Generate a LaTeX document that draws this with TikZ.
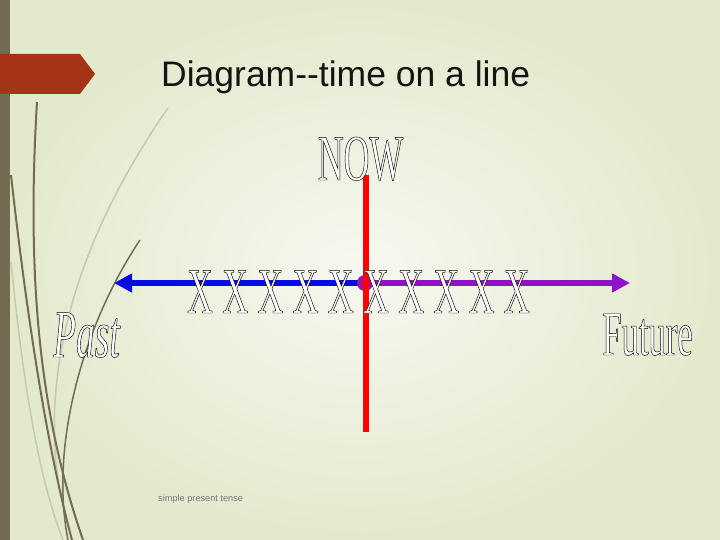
\documentclass[tikz,border=0pt]{standalone}
\usepackage{fontspec}
\setmainfont{Liberation Serif}
\newfontfamily\titlefont{Liberation Sans}
\newfontfamily\slimfont[FakeStretch=0.55]{Liberation Serif}
\usetikzlibrary{arrows.meta,positioning}

\definecolor{bgedge}{RGB}{227,233,205}
\definecolor{bgmid}{RGB}{247,248,240}
\definecolor{barcol}{RGB}{115,107,82}
\definecolor{tagcol}{RGB}{165,52,22}
\definecolor{stemlight}{RGB}{198,200,178}
\definecolor{pastblue}{RGB}{10,10,230}
\definecolor{futpurple}{RGB}{140,20,200}
\definecolor{nowred}{RGB}{255,0,0}
\definecolor{notegray}{RGB}{120,120,120}

\newcommand{\hollow}[1]{\special{pdf:literal direct 2 Tr 0 G 0.45 w}#1\special{pdf:literal direct 0 Tr}}

\begin{document}
\begin{tikzpicture}[x=1pt,y=-1pt,
	stem/.style = {draw=barcol, line width=2pt},
	thin stem/.style = {draw=stemlight, line width=1.5pt},
	timeline/.style = {line width=6pt, -{Triangle[length=18pt,width=18pt]}},
	bigletter/.style = {text=white, inner sep=0pt, anchor=base,
	                    font=\slimfont\fontsize{65}{65}\selectfont}
	]
\useasboundingbox (0,0) rectangle (720,540);
\shade[inner color=bgmid, outer color=bgedge] (0,0) rectangle (720,540);
\fill[barcol] (0,0) rectangle (10,540);

\draw[thin stem] (168,108) .. controls (90,220) and (40,350) .. (58,480);
\draw[thin stem] (11,262) .. controls (25,400) and (40,480) .. (63,540);
\draw[stem] (37,102) .. controls (25,300) and (45,430) .. (83,540);
\draw[stem] (11,175) .. controls (25,300) and (45,440) .. (72,540);
\draw[stem, line width=1.5pt] (140,240) .. controls (80,330) and (50,450) .. (68,540);

\fill[tagcol] (0,54) -- (80,54) -- (95,74) -- (80,94) -- (0,94) -- cycle;

\node[anchor=base west, inner sep=0pt, font=\titlefont\fontsize{35.5}{35.5}\selectfont,
      text={rgb,255:red,20;green,20;blue,20}] (title) at (161,87) {Diagram-{}-time on a line};

\coordinate (now) at (365,283);
\coordinate (pasttip) at (114,283);
\coordinate (futuretip) at (630,283);
\coordinate (nowtop) at (366,175);
\coordinate (nowbottom) at (366,432);

\draw[timeline, pastblue] (now) -- (pasttip);
\draw[timeline, futpurple] (now) -- (futuretip);
\fill[futpurple!85!nowred] (now) circle (8);
\draw[nowred, line width=6.5pt] (nowtop) -- (nowbottom);

\node[bigletter] (nowlabel) at (360.5,180) {\hollow{NOW}};
\foreach \i in {0,...,9}
	\node[bigletter] (x\i) at (200+35.2*\i,313) {\hollow{X}};
\node[bigletter, font=\slimfont\itshape\fontsize{68}{68}\selectfont] (past) at (86.5,357) {\hollow{Past}};
\node[bigletter, font=\slimfont\fontsize{63}{63}\selectfont] (future) at (647.5,355) {\hollow{Future}};

\node[anchor=base west, inner sep=0pt, text=notegray, font=\titlefont\fontsize{9.2}{9.2}\selectfont] (note) at (158,501) {simple present tense};
\end{tikzpicture}
\end{document}
